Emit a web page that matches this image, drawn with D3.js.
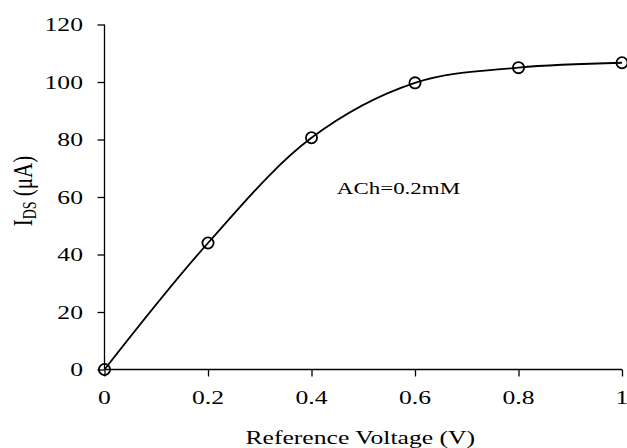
<!DOCTYPE html>
<html>
<head>
<meta charset="utf-8">
<script src="https://cdn.jsdelivr.net/npm/d3@7"></script>
<style>
body { margin: 0; background: #fff; }
text { font-family: "Liberation Serif", "Times New Roman", serif; fill: #000; }
</style>
</head>
<body>
<div id="chart"></div>
<script>
// values
var voltage = [0, 0.2, 0.4, 0.6, 0.8, 1];
var current = [0, 44, 80.6, 99.7, 105, 106.7];
var xTicks = [0, 0.2, 0.4, 0.6, 0.8, 1];
var yTicks = [0, 20, 40, 60, 80, 100, 120];
var xTitle = "Reference Voltage (V)";
var note = "ACh=0.2mM";

var width = 627, height = 448;
var stretch = 1.35; // the source font is set wide

var svg = d3.select("#chart").append("svg").attr("width", width).attr("height", height);

var x = d3.scaleLinear().domain([0, 1]).range([104.5, 622]);
var y = d3.scaleLinear().domain([0, 120]).range([369.5, 24.5]);

function wideText(px, py, str, anchor, size) {
	var g = svg.append("g").attr("transform", "translate(" + px + "," + py + ") scale(" + stretch + ",1)");
	return g.append("text").attr("text-anchor", anchor).style("font-size", size + "px").text(str);
}

// axes
var xAxis = svg.append("g").attr("transform", "translate(0," + y(0) + ")")
	.call(d3.axisBottom(x).tickValues(xTicks).tickSize(7).tickFormat(""));
var yAxis = svg.append("g").attr("transform", "translate(" + x(0) + ",0)")
	.call(d3.axisLeft(y).tickValues(yTicks).tickSize(7).tickFormat(""));
svg.selectAll(".domain").attr("d", null);
xAxis.append("line").attr("x1", x(0)).attr("x2", x(1)).attr("stroke", "#000").attr("stroke-width", 1.3);
yAxis.append("line").attr("y1", y(0)).attr("y2", y(120)).attr("stroke", "#000").attr("stroke-width", 1.3);
svg.selectAll(".tick line").attr("stroke", "#000").attr("stroke-width", 1.3);

xTicks.forEach(function(t) {
	wideText(x(t), 404, d3.format("")(t), "middle", 19);
});
yTicks.forEach(function(t) {
	wideText(83, y(t) + 6.5, t, "end", 19);
});
wideText(x(0.5) - 3, 444, xTitle, "middle", 19);

// y title with subscript
var yt = svg.append("g").attr("transform", "translate(32," + 191 + ") scale(" + stretch + ",1) rotate(-90)")
	.append("text").attr("text-anchor", "middle").style("font-size", "21px");
yt.append("tspan").text("I");
yt.append("tspan").attr("dy", 3).style("font-size", "14px").text("DS");
yt.append("tspan").attr("dy", -3).text(" (\u03bcA)");

wideText(x(0.449), y(61.2), note, "start", 17);

var pts = voltage.map(function(v, i) { return [v, current[i]]; });

var line = d3.line()
	.x(function(d) { return x(d[0]); })
	.y(function(d) { return y(d[1]); })
	.curve(d3.curveCatmullRom.alpha(0.5));

svg.append("path").datum(pts).attr("d", line)
	.attr("fill", "none").attr("stroke", "#000").attr("stroke-width", 1.8);

svg.selectAll(".pt").data(pts).enter().append("circle").attr("class", "pt")
	.attr("cx", function(d) { return x(d[0]); })
	.attr("cy", function(d) { return y(d[1]); })
	.attr("r", 5.6)
	.attr("fill", "none").attr("stroke", "#000").attr("stroke-width", 1.8);
</script>
</body>
</html>
